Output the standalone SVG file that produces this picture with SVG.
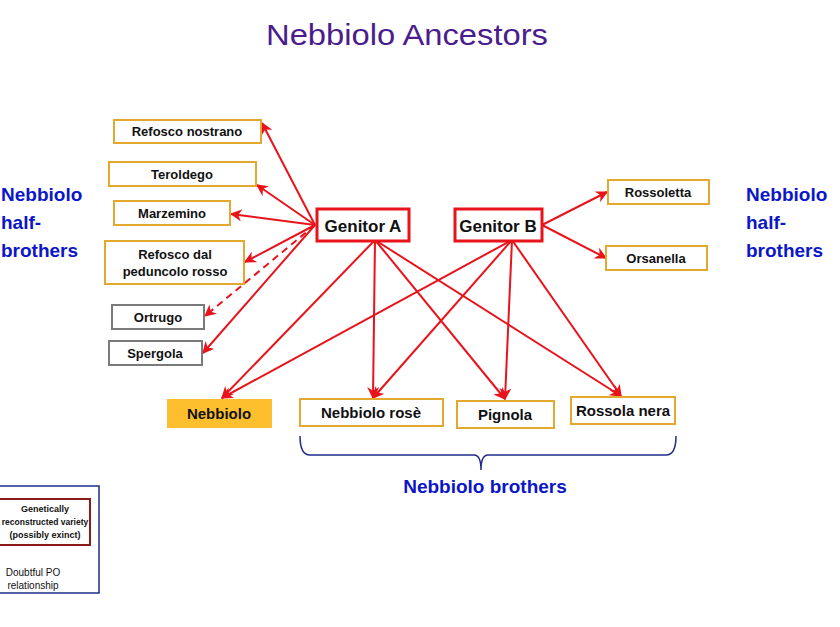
<svg xmlns="http://www.w3.org/2000/svg" width="840" height="627" viewBox="0 0 840 627">
<defs>
<marker id="ah" viewBox="0 0 10 10" refX="9" refY="5" markerWidth="6" markerHeight="6" orient="auto" markerUnits="strokeWidth">
<path d="M0,0 L10,5 L0,10 L3,5 z" fill="#E8131B"/>
</marker>
<style>
text{font-family:"Liberation Sans",Arial,sans-serif;font-weight:bold;fill:#111;text-anchor:middle}
.y{fill:#fff;stroke:#E2A92E;stroke-width:2}
.g{fill:#fff;stroke:#7a7a7a;stroke-width:2}
.r{fill:#fff;stroke:#E8131B;stroke-width:3}
.l{font-size:13px}
.b{font-size:15px}
.blue{fill:#0B16C8;font-size:19px;text-anchor:start}
.c line{stroke:#E8131B;stroke-width:2;marker-end:url(#ah)}
</style>
</defs>
<rect width="840" height="627" fill="#fff"/>
<text x="407" y="45" style="font-weight:normal;font-size:30px;fill:#4A1C8C" textLength="282" lengthAdjust="spacingAndGlyphs">Nebbiolo Ancestors</text>

<g class="c" id="connectors">
<line x1="315" y1="225" x2="262" y2="123"/>
<line x1="315" y1="225" x2="257" y2="185"/>
<line x1="315" y1="225" x2="231" y2="214"/>
<line x1="315" y1="225" x2="245" y2="262"/>
<line x1="315" y1="225" x2="205" y2="316" stroke-dasharray="7,5"/>
<line x1="315" y1="225" x2="203" y2="353"/>
<line x1="375" y1="240" x2="222" y2="398"/>
<line x1="375" y1="240" x2="373" y2="398"/>
<line x1="375" y1="240" x2="505" y2="399"/>
<line x1="375" y1="240" x2="621" y2="396"/>
<line x1="512" y1="240" x2="222" y2="398"/>
<line x1="512" y1="240" x2="373" y2="398"/>
<line x1="512" y1="240" x2="505" y2="399"/>
<line x1="512" y1="240" x2="621" y2="396"/>
<line x1="542" y1="225" x2="607" y2="192"/>
<line x1="542" y1="225" x2="606" y2="258"/>
</g>

<g id="genitorA"><rect class="r" x="317" y="209" width="92" height="32"/><text x="363" y="232" style="font-size:17px">Genitor A</text></g>
<g id="genitorB"><rect class="r" x="455" y="209" width="87" height="32"/><text x="498" y="232" style="font-size:17px">Genitor B</text></g>

<g id="refoscoNostrano"><rect class="y" x="114" y="120" width="147" height="23"/><text class="l" x="187" y="136">Refosco nostrano</text></g>
<g id="teroldego"><rect class="y" x="109" y="162" width="147" height="24"/><text class="l" x="182" y="179">Teroldego</text></g>
<g id="marzemino"><rect class="y" x="114" y="201" width="116" height="24"/><text class="l" x="172" y="218">Marzemino</text></g>
<g id="refoscoPeduncolo"><rect class="y" x="105" y="241" width="139" height="43"/><text class="l" x="175" y="259">Refosco dal</text><text class="l" x="175" y="276">peduncolo rosso</text></g>
<g id="ortrugo"><rect class="g" x="112" y="305" width="92" height="24"/><text class="l" x="158" y="322">Ortrugo</text></g>
<g id="spergola"><rect class="g" x="109" y="341" width="93" height="24"/><text class="l" x="155" y="358">Spergola</text></g>

<g id="rossoletta"><rect class="y" x="608" y="180" width="101" height="24"/><text class="l" x="658" y="197">Rossoletta</text></g>
<g id="orsanella"><rect class="y" x="606" y="246" width="101" height="24"/><text class="l" x="656" y="263">Orsanella</text></g>

<g id="nebbiolo"><rect x="167" y="399" width="105" height="29" fill="#FDBF2D"/><text class="b" x="219" y="419">Nebbiolo</text></g>
<g id="nebbioloRose"><rect class="y" x="300" y="399" width="143" height="27"/><text class="b" x="371" y="418">Nebbiolo rosè</text></g>
<g id="pignola"><rect class="y" x="457" y="401" width="97" height="27"/><text class="b" x="505" y="420">Pignola</text></g>
<g id="rossolaNera"><rect class="y" x="571" y="397" width="104" height="27"/><text class="b" x="623" y="416">Rossola nera</text></g>

<g id="brothersBrace">
<path d="M300,436 Q300,455 310,455 L474,455 Q481,455 481,470 Q481,455 488,455 L666,455 Q676,455 676,436" fill="none" stroke="#1F2A8C" stroke-width="1.5"/>
<text x="485" y="493" style="fill:#0B16C8;font-size:19px">Nebbiolo brothers</text>
</g>

<g id="leftLabel"><text class="blue" x="1" y="201">Nebbiolo</text><text class="blue" x="1" y="229">half-</text><text class="blue" x="1" y="257">brothers</text></g>
<g id="rightLabel"><text class="blue" x="746" y="201">Nebbiolo</text><text class="blue" x="746" y="229">half-</text><text class="blue" x="746" y="257">brothers</text></g>

<g id="legend">
<rect x="-10" y="486" width="109" height="107" fill="#fff" stroke="#1F2A8C" stroke-width="1.5"/>
<rect x="-10" y="499" width="100" height="46" fill="#fff" stroke="#8B1A1A" stroke-width="2"/>
<text x="45" y="512" style="font-size:9px">Genetically</text>
<text x="45" y="525" style="font-size:8.5px">reconstructed variety</text>
<text x="45" y="538" style="font-size:9px">(possibly exinct)</text>
<text x="33" y="576" style="font-size:10px;font-weight:normal">Doubtful PO</text>
<text x="33" y="589" style="font-size:10px;font-weight:normal">relationship</text>
</g>
</svg>
